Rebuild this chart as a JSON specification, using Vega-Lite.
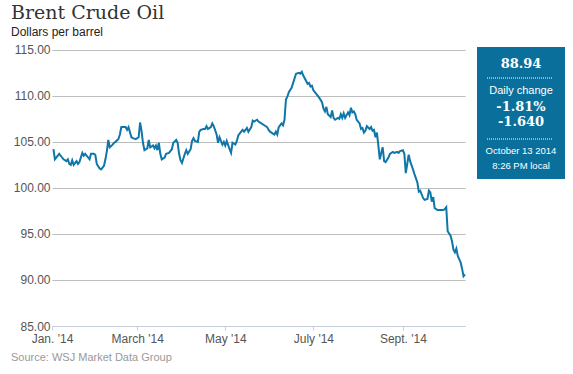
{
  "$schema": "https://vega.github.io/schema/vega-lite/v6.json",
  "padding": {"left": 11, "top": 3, "right": 8, "bottom": 4},
  "background": "white",
  "title": {"text": "Brent Crude Oil", "subtitle": "Dollars per barrel", "anchor": "start", "frame": "bounds", "font": "DejaVu Serif", "fontSize": 19, "fontWeight": "normal", "color": "#333333", "subtitleFont": "Liberation Sans", "subtitleFontSize": 12, "subtitleColor": "#222222", "subtitlePadding": 4, "offset": 6},
  "spacing": 12,
  "bounds": "flush",
  "hconcat": [
    {
      "width": 413,
      "height": 279,
      "title": {"text": "Source: WSJ Market Data Group", "orient": "bottom", "anchor": "start", "frame": "bounds", "font": "Liberation Sans", "fontSize": 11, "fontWeight": "normal", "color": "#999999", "offset": 8},
      "data": {"values": [
        {"date":"2014-01-02","price":104.2},{"date":"2014-01-03","price":103.1},{"date":"2014-01-05","price":103.5},{"date":"2014-01-06","price":103.7},{"date":"2014-01-08","price":103.3},{"date":"2014-01-09","price":103.1},{"date":"2014-01-11","price":102.9},{"date":"2014-01-12","price":103.1},{"date":"2014-01-13","price":102.6},{"date":"2014-01-14","price":102.5},{"date":"2014-01-15","price":103.0},{"date":"2014-01-16","price":102.5},{"date":"2014-01-18","price":102.9},{"date":"2014-01-19","price":102.6},{"date":"2014-01-20","price":102.8},{"date":"2014-01-22","price":103.8},{"date":"2014-01-23","price":103.5},{"date":"2014-01-24","price":103.7},{"date":"2014-01-26","price":103.3},{"date":"2014-01-27","price":103.1},{"date":"2014-01-28","price":103.7},{"date":"2014-01-30","price":103.7},{"date":"2014-01-31","price":103.6},
        {"date":"2014-02-01","price":102.6},{"date":"2014-02-03","price":102.1},{"date":"2014-02-04","price":102.0},{"date":"2014-02-06","price":102.4},{"date":"2014-02-07","price":103.1},{"date":"2014-02-08","price":104.0},{"date":"2014-02-09","price":105.2},{"date":"2014-02-10","price":104.4},{"date":"2014-02-12","price":104.7},{"date":"2014-02-13","price":104.9},{"date":"2014-02-14","price":105.0},{"date":"2014-02-16","price":105.3},{"date":"2014-02-17","price":105.8},{"date":"2014-02-18","price":106.6},{"date":"2014-02-21","price":106.6},{"date":"2014-02-22","price":106.3},{"date":"2014-02-23","price":106.6},{"date":"2014-02-25","price":105.5},{"date":"2014-02-26","price":105.4},{"date":"2014-02-28","price":105.3},
        {"date":"2014-03-02","price":105.5},{"date":"2014-03-03","price":107.1},{"date":"2014-03-04","price":106.2},{"date":"2014-03-05","price":104.9},{"date":"2014-03-06","price":104.1},{"date":"2014-03-08","price":104.3},{"date":"2014-03-09","price":105.2},{"date":"2014-03-10","price":104.4},{"date":"2014-03-12","price":104.6},{"date":"2014-03-13","price":104.3},{"date":"2014-03-14","price":104.6},{"date":"2014-03-15","price":104.1},{"date":"2014-03-16","price":104.9},{"date":"2014-03-17","price":103.7},{"date":"2014-03-18","price":103.1},{"date":"2014-03-20","price":103.3},{"date":"2014-03-21","price":103.7},{"date":"2014-03-23","price":103.8},{"date":"2014-03-25","price":104.2},{"date":"2014-03-26","price":104.9},{"date":"2014-03-28","price":105.2},{"date":"2014-03-29","price":104.9},{"date":"2014-03-30","price":103.7},{"date":"2014-03-31","price":103.0},
        {"date":"2014-04-01","price":102.7},{"date":"2014-04-03","price":103.7},{"date":"2014-04-04","price":104.1},{"date":"2014-04-05","price":103.7},{"date":"2014-04-07","price":104.2},{"date":"2014-04-08","price":105.1},{"date":"2014-04-09","price":105.4},{"date":"2014-04-10","price":105.1},{"date":"2014-04-12","price":105.0},{"date":"2014-04-13","price":106.1},{"date":"2014-04-14","price":106.3},{"date":"2014-04-16","price":106.4},{"date":"2014-04-17","price":106.4},{"date":"2014-04-18","price":106.7},{"date":"2014-04-19","price":106.4},{"date":"2014-04-21","price":106.6},{"date":"2014-04-22","price":107.0},{"date":"2014-04-23","price":106.7},{"date":"2014-04-25","price":105.8},{"date":"2014-04-26","price":104.9},{"date":"2014-04-27","price":105.5},{"date":"2014-04-29","price":104.7},{"date":"2014-04-30","price":105.0},
        {"date":"2014-05-01","price":104.6},{"date":"2014-05-02","price":105.1},{"date":"2014-05-04","price":104.2},{"date":"2014-05-05","price":103.8},{"date":"2014-05-06","price":104.9},{"date":"2014-05-08","price":104.7},{"date":"2014-05-09","price":105.1},{"date":"2014-05-10","price":105.7},{"date":"2014-05-12","price":106.1},{"date":"2014-05-13","price":106.3},{"date":"2014-05-14","price":106.1},{"date":"2014-05-16","price":106.5},{"date":"2014-05-17","price":106.1},{"date":"2014-05-19","price":106.6},{"date":"2014-05-20","price":107.3},{"date":"2014-05-21","price":107.2},{"date":"2014-05-23","price":107.4},{"date":"2014-05-24","price":107.2},{"date":"2014-05-26","price":107.0},{"date":"2014-05-28","price":106.8},{"date":"2014-05-30","price":106.6},{"date":"2014-05-31","price":106.3},
        {"date":"2014-06-01","price":106.1},{"date":"2014-06-03","price":105.9},{"date":"2014-06-04","price":105.8},{"date":"2014-06-05","price":106.1},{"date":"2014-06-06","price":105.8},{"date":"2014-06-07","price":106.6},{"date":"2014-06-09","price":107.0},{"date":"2014-06-10","price":106.8},{"date":"2014-06-11","price":107.4},{"date":"2014-06-12","price":109.6},{"date":"2014-06-13","price":109.9},{"date":"2014-06-14","price":110.4},{"date":"2014-06-16","price":110.9},{"date":"2014-06-17","price":111.4},{"date":"2014-06-18","price":111.9},{"date":"2014-06-19","price":112.4},{"date":"2014-06-21","price":112.5},{"date":"2014-06-22","price":112.4},{"date":"2014-06-23","price":112.6},{"date":"2014-06-24","price":112.2},{"date":"2014-06-26","price":111.6},{"date":"2014-06-27","price":111.3},{"date":"2014-06-28","price":111.4},{"date":"2014-06-29","price":111.0},{"date":"2014-06-30","price":111.1},
        {"date":"2014-07-01","price":110.6},{"date":"2014-07-03","price":110.2},{"date":"2014-07-05","price":109.8},{"date":"2014-07-07","price":109.3},{"date":"2014-07-08","price":108.6},{"date":"2014-07-09","price":108.3},{"date":"2014-07-10","price":108.8},{"date":"2014-07-11","price":108.0},{"date":"2014-07-13","price":107.7},{"date":"2014-07-14","price":108.4},{"date":"2014-07-15","price":107.6},{"date":"2014-07-16","price":107.4},{"date":"2014-07-18","price":107.6},{"date":"2014-07-19","price":107.5},{"date":"2014-07-20","price":108.0},{"date":"2014-07-21","price":107.6},{"date":"2014-07-22","price":108.1},{"date":"2014-07-23","price":107.6},{"date":"2014-07-25","price":108.2},{"date":"2014-07-26","price":107.9},{"date":"2014-07-27","price":108.7},{"date":"2014-07-28","price":108.2},{"date":"2014-07-29","price":108.3},{"date":"2014-07-30","price":108.0},{"date":"2014-07-31","price":107.4},
        {"date":"2014-08-02","price":107.0},{"date":"2014-08-03","price":106.4},{"date":"2014-08-04","price":106.5},{"date":"2014-08-05","price":106.0},{"date":"2014-08-06","price":106.2},{"date":"2014-08-07","price":106.7},{"date":"2014-08-09","price":106.4},{"date":"2014-08-10","price":106.6},{"date":"2014-08-11","price":106.2},{"date":"2014-08-12","price":106.3},{"date":"2014-08-13","price":105.5},{"date":"2014-08-14","price":106.0},{"date":"2014-08-15","price":104.6},{"date":"2014-08-16","price":103.1},{"date":"2014-08-17","price":103.8},{"date":"2014-08-18","price":104.4},{"date":"2014-08-19","price":102.9},{"date":"2014-08-20","price":102.8},{"date":"2014-08-22","price":103.3},{"date":"2014-08-23","price":103.7},{"date":"2014-08-25","price":103.9},{"date":"2014-08-26","price":103.8},{"date":"2014-08-28","price":103.9},{"date":"2014-08-29","price":103.8},{"date":"2014-08-30","price":104.0},
        {"date":"2014-09-01","price":104.1},{"date":"2014-09-02","price":103.7},{"date":"2014-09-03","price":101.6},{"date":"2014-09-05","price":103.6},{"date":"2014-09-06","price":102.9},{"date":"2014-09-08","price":102.0},{"date":"2014-09-09","price":101.5},{"date":"2014-09-11","price":100.6},{"date":"2014-09-12","price":99.6},{"date":"2014-09-13","price":99.7},{"date":"2014-09-15","price":98.9},{"date":"2014-09-16","price":98.7},{"date":"2014-09-18","price":98.8},{"date":"2014-09-19","price":99.7},{"date":"2014-09-20","price":99.5},{"date":"2014-09-21","price":98.5},{"date":"2014-09-22","price":99.0},{"date":"2014-09-23","price":97.8},{"date":"2014-09-25","price":97.6},{"date":"2014-09-27","price":97.6},{"date":"2014-09-29","price":97.6},{"date":"2014-09-30","price":97.7},
        {"date":"2014-10-01","price":97.9},{"date":"2014-10-02","price":95.3},{"date":"2014-10-04","price":94.8},{"date":"2014-10-05","price":94.2},{"date":"2014-10-06","price":93.3},{"date":"2014-10-07","price":93.0},{"date":"2014-10-08","price":93.4},{"date":"2014-10-09","price":92.6},{"date":"2014-10-11","price":91.9},{"date":"2014-10-12","price":91.2},{"date":"2014-10-13","price":90.4},{"date":"2014-10-14","price":90.6}
      ]},
      "mark": {"type": "line", "color": "#0e76a8", "strokeWidth": 2},
      "encoding": {
        "x": {
          "field": "date", "type": "temporal",
          "scale": {"type": "utc", "domain": [{"year": 2014, "month": 1, "date": 1, "utc": true}, {"year": 2014, "month": 10, "date": 14, "utc": true}]},
          "axis": {
            "title": null,
            "values": [{"year": 2014, "month": 1, "date": 1, "utc": true}, {"year": 2014, "month": 3, "date": 1, "utc": true}, {"year": 2014, "month": 5, "date": 1, "utc": true}, {"year": 2014, "month": 7, "date": 1, "utc": true}, {"year": 2014, "month": 9, "date": 1, "utc": true}],
            "labelExpr": "[\"Jan. '14\",\"\",\"March '14\",\"\",\"May '14\",\"\",\"July '14\",\"\",\"Sept. '14\"][utcmonth(datum.value)]",
            "grid": false,
            "domainColor": "#c5cddb",
            "tickColor": "#c5cddb",
            "tickSize": 4,
            "labelPadding": 3,
            "labelFont": "Liberation Sans",
            "labelFontSize": 12,
            "labelColor": "#555555",
            "labelFlush": false,
            "zindex": 1
          }
        },
        "y": {
          "field": "price", "type": "quantitative",
          "scale": {"domain": [85, 115.3], "nice": false, "zero": false},
          "axis": {
            "title": null,
            "values": [85, 90, 95, 100, 105, 110, 115],
            "format": ".2f",
            "domain": false,
            "ticks": false,
            "grid": true,
            "gridColor": "#bdbdbd",
            "labelPadding": 2,
            "labelFont": "Liberation Sans",
            "labelFontSize": 12,
            "labelColor": "#555555",
            "minExtent": 41,
            "maxExtent": 41
          }
        }
      }
    },
    {
      "width": 88,
      "height": 132,
      "layer": [
        {
          "data": {"values": [{"x": 0, "x2": 88, "y": 0, "y2": 132}]},
          "mark": {"type": "rect", "color": "#0b6f9b"},
          "encoding": {
            "x": {"field": "x", "type": "quantitative", "scale": {"domain": [0, 88], "nice": false, "zero": false}, "axis": null},
            "x2": {"field": "x2"},
            "y": {"field": "y", "type": "quantitative", "scale": {"domain": [0, 132], "nice": false, "zero": false, "reverse": true}, "axis": null},
            "y2": {"field": "y2"}
          }
        },
        {
          "data": {"values": [{"x": 10, "x2": 76, "y": 31}, {"x": 10, "x2": 76, "y": 92}]},
          "mark": {"type": "rule", "color": "#ffffff", "strokeDash": [1, 1], "strokeWidth": 1},
          "encoding": {
            "x": {"field": "x", "type": "quantitative"},
            "x2": {"field": "x2"},
            "y": {"field": "y", "type": "quantitative"}
          }
        },
        {
          "data": {"values": [{"label": "88.94", "x": 44, "y": 16.5}, {"label": "-1.81%", "x": 44, "y": 60}, {"label": "-1.640", "x": 44, "y": 75}]},
          "mark": {"type": "text", "font": "DejaVu Serif", "fontWeight": "bold", "fontSize": 13, "color": "#ffffff", "align": "center", "baseline": "middle"},
          "encoding": {
            "x": {"field": "x", "type": "quantitative"},
            "y": {"field": "y", "type": "quantitative"},
            "text": {"field": "label"}
          }
        },
        {
          "data": {"values": [{"label": "Daily change", "x": 44, "y": 44}]},
          "mark": {"type": "text", "font": "Liberation Sans", "fontSize": 11, "color": "#ffffff", "align": "center", "baseline": "middle"},
          "encoding": {
            "x": {"field": "x", "type": "quantitative"},
            "y": {"field": "y", "type": "quantitative"},
            "text": {"field": "label"}
          }
        },
        {
          "data": {"values": [{"label": "October 13 2014", "x": 44, "y": 104}, {"label": "8:26 PM local", "x": 44, "y": 119}]},
          "mark": {"type": "text", "font": "Liberation Sans", "fontSize": 9.5, "color": "#ffffff", "align": "center", "baseline": "middle"},
          "encoding": {
            "x": {"field": "x", "type": "quantitative"},
            "y": {"field": "y", "type": "quantitative"},
            "text": {"field": "label"}
          }
        }
      ]
    }
  ],
  "config": {"view": {"stroke": null}}
}
